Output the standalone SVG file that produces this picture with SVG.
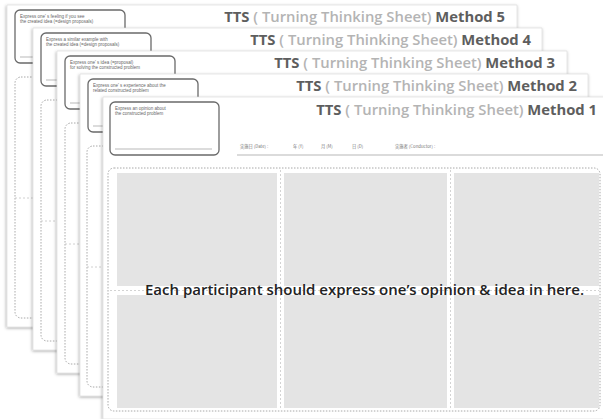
<svg xmlns="http://www.w3.org/2000/svg" width="603" height="419" viewBox="0 0 603 419">
<defs>
<filter id="sh" x="-5%" y="-5%" width="110%" height="110%">
<feDropShadow dx="-0.5" dy="1" stdDeviation="1.4" flood-color="#000" flood-opacity="0.35"/>
</filter>
<style>
.sheet{fill:#fff;stroke:#d8d8d8;stroke-width:0.6;filter:url(#sh)}
.box{fill:#fff;stroke:#6a6a6a;stroke-width:1.3}
.bline{stroke:#8a8a8a;stroke-width:0.6}
.btxt{font-family:"Liberation Sans",Arial,sans-serif;font-size:4.5px;fill:#666}
.title{font-family:"Open Sans","Liberation Sans",sans-serif;font-size:14.8px;font-weight:700;fill:#5e5e5e}
.light{fill:#b4b4b4;font-weight:600}
.area{fill:none;stroke:#a8a8a8;stroke-width:1;stroke-dasharray:1.5 1.5}
.mid{stroke:#c4c4c4;stroke-width:0.8;stroke-dasharray:2 2}
.cell{fill:#e4e4e4}
.sep{stroke:#c8c8c8;stroke-width:0.8;stroke-dasharray:2 2}
.date{font-family:"Noto Sans CJK JP","Liberation Sans",sans-serif;font-size:4.3px;fill:#777}
.main{font-family:"Open Sans","Liberation Sans",sans-serif;font-size:15px;font-weight:600;fill:#222}
</style>
</defs>

<g id="sheet5" transform="translate(7,5)">
<rect class="sheet" x="0" y="0" width="510" height="322"/>
<rect class="box" x="8" y="5" width="110" height="53" rx="5"/>
<text class="btxt" x="13" y="13">Express one' s feeling if you see</text>
<text class="btxt" x="13" y="18">the created idea (=design proposals)</text>
<line class="bline" x1="13" y1="52" x2="110" y2="52"/>
<text class="title" x="498" y="17" text-anchor="end">TTS<tspan class="light"> ( Turning Thinking Sheet) </tspan>Method 5</text>
<rect class="area" x="8" y="72" width="492" height="241" rx="6"/>
<line class="mid" x1="8" y1="193" x2="500" y2="193"/>
</g>

<g id="sheet4" transform="translate(33,28)">
<rect class="sheet" x="0" y="0" width="509" height="322"/>
<rect class="box" x="8" y="5" width="110" height="53" rx="5"/>
<text class="btxt" x="13" y="13">Express a similar example with</text>
<text class="btxt" x="13" y="18">the created idea (=design proposals)</text>
<line class="bline" x1="13" y1="52" x2="110" y2="52"/>
<text class="title" x="498" y="17" text-anchor="end">TTS<tspan class="light"> ( Turning Thinking Sheet) </tspan>Method 4</text>
<rect class="area" x="8" y="72" width="492" height="241" rx="6"/>
<line class="mid" x1="8" y1="193" x2="500" y2="193"/>
</g>

<g id="sheet3" transform="translate(57,51)">
<rect class="sheet" x="0" y="0" width="510" height="322"/>
<rect class="box" x="8" y="5" width="110" height="53" rx="5"/>
<text class="btxt" x="13" y="13">Express one' s idea (=proposal)</text>
<text class="btxt" x="13" y="18">for solving the constructed problem</text>
<line class="bline" x1="13" y1="52" x2="110" y2="52"/>
<text class="title" x="498" y="17" text-anchor="end">TTS<tspan class="light"> ( Turning Thinking Sheet) </tspan>Method 3</text>
<rect class="area" x="8" y="72" width="492" height="241" rx="6"/>
<line class="mid" x1="8" y1="193" x2="500" y2="193"/>
</g>

<g id="sheet2" transform="translate(80,74)">
<rect class="sheet" x="0" y="0" width="508" height="322"/>
<rect class="box" x="8" y="5" width="110" height="53" rx="5"/>
<text class="btxt" x="13" y="13">Express one' s experience about the</text>
<text class="btxt" x="13" y="18">related constructed problem</text>
<line class="bline" x1="13" y1="52" x2="110" y2="52"/>
<text class="title" x="497" y="17" text-anchor="end">TTS<tspan class="light"> ( Turning Thinking Sheet) </tspan>Method 2</text>
<rect class="area" x="7" y="72" width="492" height="241" rx="6"/>
<line class="mid" x1="7" y1="193" x2="499" y2="193"/>
</g>

<g id="sheet1" transform="translate(103,97)">
<rect class="sheet" x="0" y="0" width="510" height="322"/>
<rect class="box" x="7" y="5" width="109" height="53" rx="5"/>
<text class="btxt" x="12" y="13">Express an opinion about</text>
<text class="btxt" x="12" y="18">the constructed problem</text>
<line class="bline" x1="12" y1="52" x2="109" y2="52"/>
<text class="title" x="494" y="18" text-anchor="end">TTS<tspan class="light"> ( Turning Thinking Sheet) </tspan>Method 1</text>
<text class="date" x="137" y="51">実施日 (Date) :</text>
<text class="date" x="190" y="51">年 (Y)</text>
<text class="date" x="218" y="51">月 (M)</text>
<text class="date" x="249" y="51">日 (D)</text>
<text class="date" x="292" y="51">実施者 (Conductor) :</text>
<line x1="134" y1="58" x2="510" y2="58" stroke="#999" stroke-width="0.7"/>
<rect class="area" x="5" y="71" width="492" height="243" rx="6"/>
<rect class="cell" x="14" y="76" width="160" height="113"/>
<rect class="cell" x="181" y="76" width="163" height="113"/>
<rect class="cell" x="351" y="76" width="145" height="113"/>
<rect class="cell" x="14" y="198" width="160" height="113"/>
<rect class="cell" x="181" y="198" width="163" height="113"/>
<rect class="cell" x="351" y="198" width="145" height="113"/>
<line class="sep" x1="177.5" y1="73" x2="177.5" y2="312"/>
<line class="sep" x1="347.5" y1="73" x2="347.5" y2="312"/>
<line class="sep" x1="7" y1="193.5" x2="496" y2="193.5"/>
<text class="main" x="42" y="198" textLength="439" lengthAdjust="spacingAndGlyphs">Each participant should express one’s opinion &amp; idea in here.</text>
</g>
</svg>
